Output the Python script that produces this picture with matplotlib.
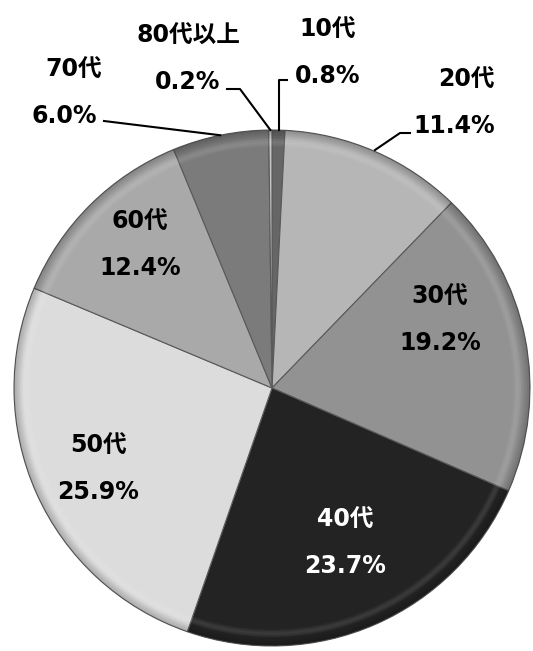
import numpy as np
import matplotlib
matplotlib.use("Agg")
import matplotlib.pyplot as plt
from matplotlib.patches import Wedge

plt.rcParams['font.family'] = ['DejaVu Sans', 'Noto Sans CJK JP']

# age groups, clockwise from 12 o'clock
groups = ['10代', '20代', '30代', '40代', '50代', '60代', '70代', '80代以上']
shares = [0.8, 11.4, 19.2, 23.7, 25.9, 12.4, 6.0, 0.2]
colors = ['#666666', '#b6b6b6', '#929292', '#232323', '#dcdcdc', '#a9a9a9', '#7b7b7b', '#c4c4c4']
text_colors = ['black', 'black', 'black', 'white', 'black', 'black', 'black', 'black']

W, H = 533, 651
fig = plt.figure(figsize=(W / 100, H / 100), dpi=100)
ax = fig.add_axes([0, 0, 1, 1])

cx, cy, R = 272, H - 388, 258

wedges, _ = ax.pie(shares, startangle=90, counterclock=False, colors=colors,
                   center=(cx, cy), radius=R, frame=True,
                   wedgeprops=dict(edgecolor='#5a5a5a', linewidth=0.8))

# bevel: darker rim with a soft highlight band just inside it
for w in wedges:
    t1, t2 = w.theta1, w.theta2
    for k, a in enumerate(np.linspace(0.22, 0.02, 6)):
        ax.add_patch(Wedge((cx, cy), R - k * 1.5, t1, t2, width=1.5,
                           facecolor='black', alpha=a, linewidth=0))
    for k, a in enumerate([0.05, 0.09, 0.11, 0.08, 0.04]):
        ax.add_patch(Wedge((cx, cy), R - 9 - k * 1.5, t1, t2, width=1.5,
                           facecolor='white', alpha=a, linewidth=0))

ax.set_xlim(0, W)
ax.set_ylim(0, H)
ax.set_aspect('equal')
ax.axis('off')


def edge_point(i, frac=1.0):
    w = wedges[i]
    ang = np.deg2rad((w.theta1 + w.theta2) / 2)
    return cx + R * frac * np.cos(ang), cy + R * frac * np.sin(ang)


fs = 17
# label positions in pixel space (x, y of name; percent sits below)
label_pos = {
    0: (328, 30),
    1: (466, 80),
    2: (440, 297),
    3: (345, 520),
    4: (98, 446),
    5: (140, 222),
    6: (74, 70),
    7: (188, 36),
}
pct_offset = {0: 0, 1: -12, 2: 0, 3: 0, 4: 0, 5: 0, 6: -10, 7: 0}
gap = 46
for i, (x, y) in label_pos.items():
    ax.text(x, H - y, groups[i], ha='center', va='center', fontsize=fs,
            fontweight='bold', color=text_colors[i])
    ax.text(x + pct_offset[i], H - y - gap, f'{shares[i]:.1f}%', ha='center',
            va='center', fontsize=fs, fontweight='bold', color=text_colors[i])

# leader lines for the outside labels
lw = 1.5
x0, y0 = edge_point(0)
ax.plot([x0, x0, 287], [y0, H - 80, H - 80], color='black', lw=lw)
x0, y0 = edge_point(7)
ax.plot([x0, 240, 227], [y0, H - 89, H - 89], color='black', lw=lw)
x0, y0 = edge_point(6)
ax.plot([x0, 104], [y0, H - 121], color='black', lw=lw)
ax.plot([375, 400, 410], [H - 150, H - 133, H - 133], color='black', lw=lw)

fig.savefig('out.png', dpi=100)
